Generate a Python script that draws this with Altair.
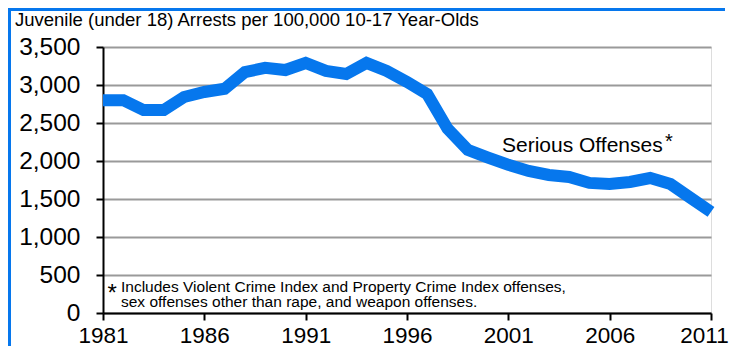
import altair as alt
import pandas as pd

# ---- data ----
years = list(range(1981, 2012))
rates = [2800, 2800, 2670, 2670, 2842, 2908, 2950, 3170, 3225, 3197,
         3290, 3185, 3145, 3290, 3184, 3040, 2880, 2425, 2145, 2045,
         1950, 1870, 1816, 1790, 1712, 1697, 1724, 1776, 1697, 1513, 1330]
x_ticks = [1981, 1986, 1991, 1996, 2001, 2006, 2011]
y_ticks = [0, 500, 1000, 1500, 2000, 2500, 3000, 3500]
title_text = "Juvenile (under 18) Arrests per 100,000 10-17 Year-Olds"
series_label = "Serious Offenses"
footnote_lines = ["Includes Violent Crime Index and Property Crime Index offenses,",
                  "sex offenses other than rape, and weapon offenses."]

FONT = "Liberation Sans"
BLUE = "#0677ED"
W, H = 608, 266

df = pd.DataFrame({"year": years, "rate": rates})

x_enc = alt.X("year:Q",
              scale=alt.Scale(domain=[1981, 2011], nice=False, zero=False),
              axis=alt.Axis(values=x_ticks, format="d", title=None, grid=False,
                            labelFont=FONT, labelFontSize=22.5, labelColor="black",
                            labelPadding=4, labelFlush=False, labelOverlap=False,
                            labelBound=False,
                            labelOffset={"condition": {"test": "datum.value == 2011", "value": -7},
                                         "value": 0},
                            tickSize=7, tickWidth=2, tickColor="black",
                            domainColor="black", domainWidth=2))
y_enc = alt.Y("rate:Q",
              scale=alt.Scale(domain=[0, 3500], nice=False),
              axis=alt.Axis(values=y_ticks, format=",d", title=None, grid=True,
                            gridColor="#9a9a9a", gridWidth=2,
                            labelFont=FONT, labelFontSize=24.5, labelColor="black",
                            labelPadding=16, labelFlush=False, labelOverlap=False,
                            tickSize=7, tickWidth=2, tickColor="black",
                            domainColor="black", domainWidth=2))

line = alt.Chart(df).mark_line(color=BLUE, strokeWidth=12, strokeJoin="miter",
                               strokeCap="butt").encode(x=x_enc, y=y_enc)

one = pd.DataFrame({"k": [0]})

def txt(text, x, y, size, align="left", baseline="alphabetic", weight="normal"):
    return alt.Chart(one).mark_text(text=text, font=FONT, fontSize=size, align=align,
                                    baseline=baseline, color="black",
                                    fontWeight=weight).encode(x=alt.value(x), y=alt.value(y))

title = txt(title_text, -88, -21, 18.5)
label = txt(series_label, 399, 105, 21)
label_star = txt("*", 562, 101, 20)
foot_star = txt("*", 4.5, 254, 24)
foot1 = txt(footnote_lines[0], 18, 244.5, 15.5)
foot2 = txt(footnote_lines[1], 18, 259.5, 15.5)

frame_top = alt.Chart(one).mark_rule(color=BLUE, strokeWidth=3).encode(
    x=alt.value(-95), x2=alt.value(622), y=alt.value(-37.5))
frame_left = alt.Chart(one).mark_rule(color=BLUE, strokeWidth=3).encode(
    x=alt.value(-93.5), y=alt.value(-39), y2=alt.value(299))

chart = alt.layer(line, title, label, label_star, foot_star, foot1, foot2,
                  frame_top, frame_left).properties(
    width=W, height=H,
    padding={"left": 95, "top": 39, "right": 20, "bottom": 33},
    autosize=alt.AutoSizeParams(type="none"),
    background="white",
).configure_view(stroke=None).configure(font=FONT)

chart.save("out.html", embed_options={"renderer": "svg", "actions": False})
